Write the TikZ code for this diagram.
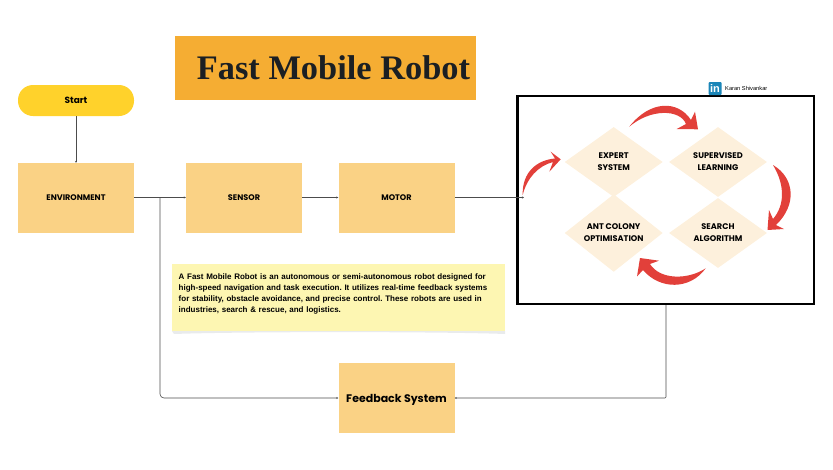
\documentclass[tikz,border=0pt]{standalone}
\usepackage{fontspec}
\setmainfont{Poppins}
\newfontfamily\notefont{Liberation Sans}
\newfontfamily\titlefont{Liberation Serif}
\usetikzlibrary{arrows.meta,shapes.geometric}
\definecolor{boxfill}{HTML}{FAD285}
\definecolor{startfill}{HTML}{FFD22B}
\definecolor{titlefill}{HTML}{F5AD33}
\definecolor{notefill}{HTML}{FDF6B2}
\definecolor{noteshade}{HTML}{E9EBEC}
\definecolor{diamondfill}{HTML}{FDF0DC}
\definecolor{swoosh}{HTML}{E2403A}
\definecolor{linkblue}{HTML}{1B86B8}
\definecolor{inkdark}{HTML}{1B1F23}
\tikzset{
	blockbox/.style={fill=boxfill, minimum width=116pt, minimum height=70pt, inner sep=0pt, text depth=0pt, font=\fontsize{8.1}{10}\selectfont\bfseries},
	skillbox/.style={diamond, fill=diamondfill, minimum width=98pt, minimum height=70pt, inner sep=0pt, align=center, font=\fontsize{8.2}{12}\selectfont\bfseries},
	wire/.style={line width=0.6pt, color=black!70, -{Stealth[length=2pt,width=2pt]}},
	swooshfill/.style={fill=swoosh, draw=none}
}
\begin{document}
\frenchspacing
\begin{tikzpicture}[x=1pt, y=-1pt]
	%%%%% START %%%%%
	\useasboundingbox (0, 0) rectangle (833, 469);
	
	\node[fill=titlefill, minimum width=301pt, minimum height=64pt, inner sep=0pt] (title) at (325.5, 68) {};
	\node[text=inkdark, font=\titlefont\fontsize{34.4}{38}\selectfont\bfseries] (titletext) at (333.5, 68) {Fast Mobile Robot};
	
	\node[fill=startfill, rounded corners=15pt, minimum width=116pt, minimum height=31pt, inner sep=0pt, font=\fontsize{9}{10}\selectfont\bfseries] (start) at (76, 100.5) {Start};
	\node[blockbox] (environment) at (76, 198) {ENVIRONMENT};
	\node[blockbox] (sensor) at (244, 198) {SENSOR};
	\node[blockbox] (motor) at (396.5, 198) {MOTOR};
	\node[blockbox, font=\fontsize{11}{14}\selectfont\bfseries] (feedback) at (396.5, 398) {Feedback System};
	
	\fill[noteshade] (172, 331) -- (505, 331) -- (505, 334) .. controls (440, 331.5) and (240, 331.5) .. (174, 334) -- cycle;
	\node[fill=notefill, minimum width=333pt, minimum height=67pt, inner sep=0pt] (note) at (338.5, 297.5) {};
	\node[anchor=north west, inner sep=0pt, text width=325pt, align=left, font=\notefont\fontsize{8}{11.3}\selectfont\bfseries] (notetext) at (178.5, 273) {A Fast Mobile Robot is an autonomous or semi-autonomous robot designed for\\ high-speed navigation and task execution. It utilizes real-time feedback systems\\ for stability, obstacle avoidance, and precise control. These robots are used in\\ industries, search \& rescue, and logistics.};
	
	\node[draw=black, line width=2.2pt, minimum width=296.5pt, minimum height=208pt, inner sep=0pt] (panel) at (665.75, 200) {};
	\node[skillbox] (expert) at (613.7, 162) {EXPERT\\SYSTEM};
	\node[skillbox] (supervised) at (718, 162) {SUPERVISED\\LEARNING};
	\node[skillbox] (colony) at (613.7, 233) {ANT COLONY\\OPTIMISATION};
	\node[skillbox] (search) at (718, 233) {SEARCH\\ALGORITHM};
	
	% connectors
	\coordinate (panelin) at (524, 197.5);
	\coordinate (tee) at (160, 197.5);
	\coordinate (panelout) at (666, 398);
	\draw[wire] (start) -- (environment);
	\draw[wire] (environment.east |- tee) -- (sensor.west |- tee);
	\draw[wire] (sensor.east |- tee) -- (motor.west |- tee);
	\draw[wire] (motor.east |- tee) -- (panelin);
	\draw[wire, rounded corners=4pt] (tee) -- (tee |- feedback) -- (feedback.west);
	\draw[wire, rounded corners=1pt] (panel.south -| panelout) -- (panelout) -- (feedback.east);
	
	% red arrows
	\draw[swooshfill] (629.3, 126.7) .. controls (650, 100) and (678, 100) .. (691, 120) -- (695, 111.7) -- (698, 129.3) -- (676.7, 129) -- (686, 124) .. controls (680, 108.8) and (650, 108.8) .. (629.3, 126.7) -- cycle;
	\draw[swooshfill] (773, 165) .. controls (795, 178) and (797, 205) .. (776, 225) -- (784, 229) -- (767.5, 230) -- (769, 210) -- (773, 219) .. controls (785, 205) and (785, 185) .. (773, 165) -- cycle;
	\draw[swooshfill] (705.7, 268.3) .. controls (690, 290) and (660, 290) .. (643, 270) -- (637, 276.5) -- (640, 258) -- (659, 260.7) -- (650, 264) .. controls (660, 280) and (688, 280) .. (705.7, 268.3) -- cycle;
	\draw[swooshfill] (522.7, 195) .. controls (522, 172) and (537, 160) .. (555, 158.5) -- (550.7, 151.7) -- (560.7, 159.3) -- (549.3, 171.7) -- (553, 162) .. controls (538, 166) and (527, 178) .. (522.7, 195) -- cycle;
	
	\node[fill=linkblue, rounded corners=1pt, minimum size=13pt, inner sep=0pt, text=white, font=\notefont\fontsize{11}{11}\selectfont\bfseries] (linkedin) at (715, 88.5) {in};
	\node[anchor=west, inner sep=0pt, font=\notefont\fontsize{5.7}{6}\selectfont] (author) at (725, 88.5) {Karan Shivankar};
	%%%%% END %%%%%
\end{tikzpicture}
\end{document}
